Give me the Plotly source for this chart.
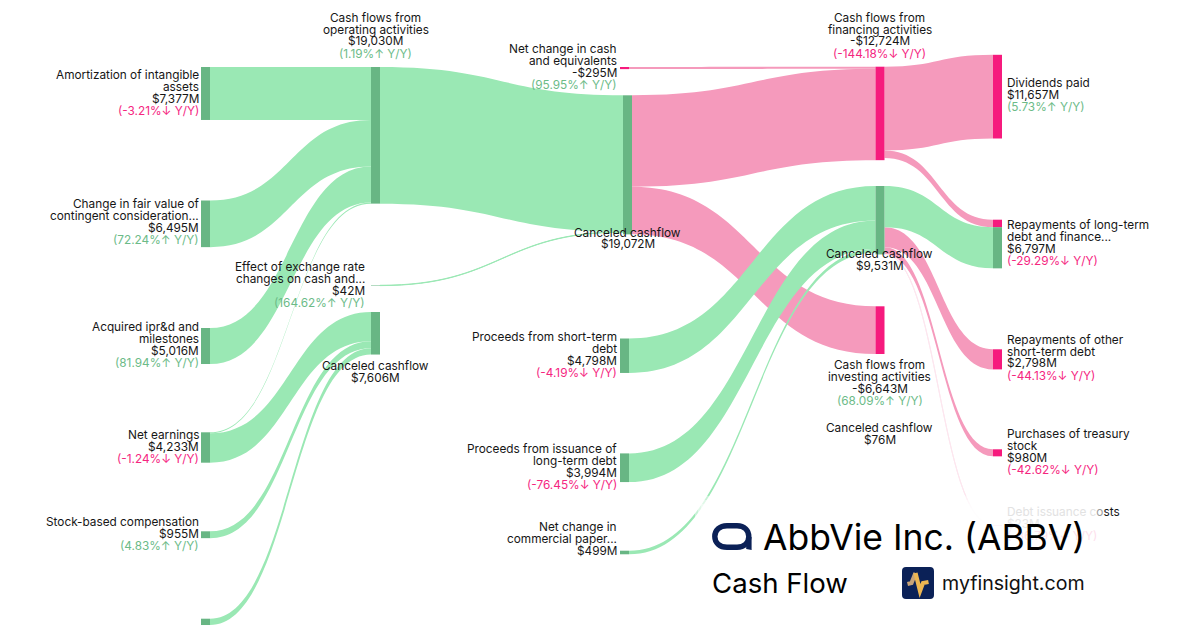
import plotly.graph_objects as go

W, H = 1200, 630
GREEN_LINK, PINK_LINK = "#9ae8b4", "#f59abc"
GREEN_NODE, PINK_NODE = "#68b684", "#f61a7d"
GREEN_TXT, PINK_TXT = "#6cbb88", "#f5267f"
FAINT_PINK = "#fde6ef"
INK, NAVY = "#161616", "#0b2157"

# ---- data -----
node_names = ["Amortization", "Change in fair value", "Acquired IPR&D", "Net earnings", "Stock comp", "Other",
              "Effect of FX", "CFO", "Canceled 7606", "Net change in cash", "Canceled 19072",
              "Short-term debt", "Long-term debt", "Commercial paper", "CFF", "Canceled 9531", "CFI",
              "Dividends", "LTD repay (pink)", "LTD repay (green)", "Other ST debt", "Treasury", "Debt costs"]
link_source = [10, 10, 9, 14, 14, 15, 15, 15,
               0, 1, 2, 3, 3, 4, 5, 6, 7, 11, 12, 13, 15]
link_target = [14, 16, 14, 17, 18, 20, 21, 22,
               7, 7, 7, 7, 8, 8, 8, 10, 10, 15, 15, 15, 19]
link_value = [12724, 6643, 295, 11657, 1067, 2798, 980, 23,
              7377, 6495, 5016, 142, 4091, 955, 880, 42, 19030, 4798, 3994, 499, 5730]
link_is_pink = [1, 1, 1, 1, 1, 1, 1, 1, 0, 0, 0, 0, 0, 0, 0, 0, 0, 0, 0, 0, 0]
pink_nodes = {9, 14, 16, 17, 18, 20, 21, 22}

# ---- layout of the nodes (pixels) -----
node_cx = [205.5] * 6 + [375.5, 375.5, 375.5, 624.5, 627.5, 624.5, 624.5, 624.5,
                         880, 880, 880, 997.5, 997.5, 997.5, 997.5, 997.5, 997.5]
node_top = [67, 200.5, 328, 432.3, 531.3, 618.7, 285.3, 67, 312, 67, 95.3,
            338.5, 453.4, 550.7, 66.7, 186, 306.3, 54.8, 219.7, 227.2, 349.3, 449.3, 525]
PAD = 38.17
KY = (H - 10 * PAD) / 34584


def node_height(i):
    inflow = sum(v for t, v in zip(link_target, link_value) if t == i)
    outflow = sum(v for s, v in zip(link_source, link_value) if s == i)
    return max(inflow, outflow) * KY


link_colors = [PINK_LINK if p else GREEN_LINK for p in link_is_pink]
link_colors[7] = FAINT_PINK  # the hairline to "Debt issuance costs"

fig = go.Figure(go.Sankey(
    arrangement="fixed",
    domain=dict(x=[0, 1], y=[0, 1]),
    node=dict(
        label=[""] * len(node_names), customdata=node_names,
        x=[c / W for c in node_cx],
        y=[(t + node_height(i) / 2) / H for i, t in enumerate(node_top)],
        pad=PAD, thickness=9, line=dict(width=0),
        color=[PINK_NODE if i in pink_nodes else GREEN_NODE for i in range(len(node_names))],
        hoverinfo="skip"),
    link=dict(source=link_source, target=link_target, value=link_value,
              color=link_colors, hoverinfo="skip"),
))

annotations = []


def text(x, y, s, anchor="center", size=11.8, color=INK):
    annotations.append(dict(x=x / W, y=1 - y / H, xref="paper", yref="paper", text=s, showarrow=False,
                            xanchor=anchor, yanchor="middle", borderpad=0, borderwidth=0,
                            font=dict(family="Inter", size=size, color=color)))


def label(x, y, anchor, lines, pct=None, up=True):
    for k, line in enumerate(lines):
        text(x, y + 12 * k, line, anchor)
    if pct:
        text(x, y + 12 * len(lines), pct, anchor, color=GREEN_TXT if up else PINK_TXT)


R, L, C = "right", "left", "center"
label(199, 74.8, R, ["Amortization of intangible", "assets", "$7,377M"], "(-3.21%↓ Y/Y)", False)
label(199, 204.3, R, ["Change in fair value of", "contingent consideration...", "$6,495M"], "(72.24%↑ Y/Y)")
label(199, 326.8, R, ["Acquired ipr&amp;d and", "milestones", "$5,016M"], "(81.94%↑ Y/Y)")
label(199, 434.8, R, ["Net earnings", "$4,233M"], "(-1.24%↓ Y/Y)", False)
label(199, 521.8, R, ["Stock-based compensation", "$955M"], "(4.83%↑ Y/Y)")
label(365, 266.8, R, ["Effect of exchange rate", "changes on cash and...", "$42M"], "(164.62%↑ Y/Y)")
label(375.5, 17.5, C, ["Cash flows from", "operating activities", "$19,030M"], "(1.19%↑ Y/Y)")
label(375.5, 365.5, C, ["Canceled cashflow", "$7,606M"])
label(617, 48.8, R, ["Net change in cash", "and equivalents", "-$295M"], "(95.95%↑ Y/Y)")
label(627.5, 232.5, C, ["Canceled cashflow", "$19,072M"])
label(617, 336.5, R, ["Proceeds from short-term", "debt", "$4,798M"], "(-4.19%↓ Y/Y)", False)
label(617, 448.5, R, ["Proceeds from issuance of", "long-term debt", "$3,994M"], "(-76.45%↓ Y/Y)", False)
label(617, 526.8, R, ["Net change in", "commercial paper...", "$499M"])
label(880, 17.5, C, ["Cash flows from", "financing activities", "-$12,724M"], "(-144.18%↓ Y/Y)", False)
label(880, 253.8, C, ["Canceled cashflow", "$9,531M"])
label(880, 364.5, C, ["Cash flows from", "investing activities", "-$6,643M"], "(68.09%↑ Y/Y)")
label(880, 427.5, C, ["Canceled cashflow", "$76M"])
label(1007, 83.3, L, ["Dividends paid", "$11,657M"], "(5.73%↑ Y/Y)")
label(1007, 224.8, L, ["Repayments of long-term", "debt and finance...", "$6,797M"], "(-29.29%↓ Y/Y)", False)
label(1007, 339.5, L, ["Repayments of other", "short-term debt", "$2,798M"], "(-44.13%↓ Y/Y)", False)
label(1007, 433.8, L, ["Purchases of treasury", "stock", "$980M"], "(-42.62%↓ Y/Y)", False)

# text lying under the translucent panel, drawn in its washed-out colours
text(1007, 511.8, '<span style="color:#e2e2e2">Debt issuance c</span><span style="color:#9a9a9a">o</span>sts', L)
text(1007, 523.8, "$23M", L, color="#e6e6e6")
text(1007, 535.8, "(-86.79%↓ Y/Y)", L, color="#fde0ec")

text(763, 537, "AbbVie Inc. (ABBV)", L, size=35.5, color="#000000")
text(712, 583, "Cash Flow", L, size=27.6, color="#000000")
text(942, 583, "myfinsight.com", L, size=19.6, color="#111111")


def P(x, y):
    return f"{x / W:.5f},{1 - y / H:.5f}"


def path(cmds):
    out = []
    for c in cmds:
        if isinstance(c, str):
            out.append(c)
        else:
            out.append(P(*c))
    return " ".join(out)


shapes = []
# translucent panel under the logo block, feathered at the edge
for i in range(4):
    shapes.append(dict(type="rect", xref="paper", yref="paper", layer="above",
                       x0=(695 + i * 3) / W, x1=(1098 - i * 3) / W,
                       y0=1 - (496 + i * 4) / H, y1=0,
                       fillcolor="#ffffff", line=dict(width=0), opacity=0.45))
# AbbVie mark
shapes.append(dict(type="path", xref="paper", yref="paper", layer="above",
                   path=path(["M", (727, 525.7), "L", (737, 525.7),
                              "C", (744.5, 525.7), (748.8, 530.5), (748.8, 536.5),
                              "C", (748.8, 542.5), (744.5, 547.3), (737, 547.3),
                              "L", (727, 547.3),
                              "C", (719.5, 547.3), (714.8, 542.5), (714.8, 536.5),
                              "C", (714.8, 530.5), (719.5, 525.7), (727, 525.7), "Z"]),
                   line=dict(color=NAVY, width=5.4), fillcolor="rgba(0,0,0,0)"))
shapes.append(dict(type="path", xref="paper", yref="paper", layer="above",
                   path=path(["M", (746.2, 537), "L", (751.6, 537), "L", (751.6, 550), "L", (746.2, 549), "Z"]),
                   line=dict(width=0), fillcolor=NAVY))
# myfinsight icon
shapes.append(dict(type="path", xref="paper", yref="paper", layer="above",
                   path=path(["M", (906, 567), "L", (930, 567), "Q", (934, 567), (934, 571), "L", (934, 595),
                              "Q", (934, 599), (930, 599), "L", (906, 599), "Q", (902, 599), (902, 595),
                              "L", (902, 571), "Q", (902, 567), (906, 567), "Z"]),
                   line=dict(width=0), fillcolor=NAVY))
shapes.append(dict(type="path", xref="paper", yref="paper", layer="above",
                   path=path(["M", (907.5, 584), "L", (911.5, 583), "L", (915.5, 573)]),
                   line=dict(color="#c9a478", width=4.2), fillcolor="rgba(0,0,0,0)"))
shapes.append(dict(type="path", xref="paper", yref="paper", layer="above",
                   path=path(["M", (915.5, 573), "L", (920, 591), "L", (923, 583), "L", (928.5, 582)]),
                   line=dict(color="#edb652", width=4.2), fillcolor="rgba(0,0,0,0)"))

fig.update_layout(width=W, height=H, autosize=False, margin=dict(l=0, r=0, t=0, b=0, pad=0),
                  paper_bgcolor="#ffffff", plot_bgcolor="#ffffff", showlegend=False,
                  annotations=annotations, shapes=shapes, font=dict(family="Inter"))
fig.write_html("out.html", config=dict(displayModeBar=False),
               post_script="document.body.style.margin='0';document.documentElement.style.overflow='hidden';")
